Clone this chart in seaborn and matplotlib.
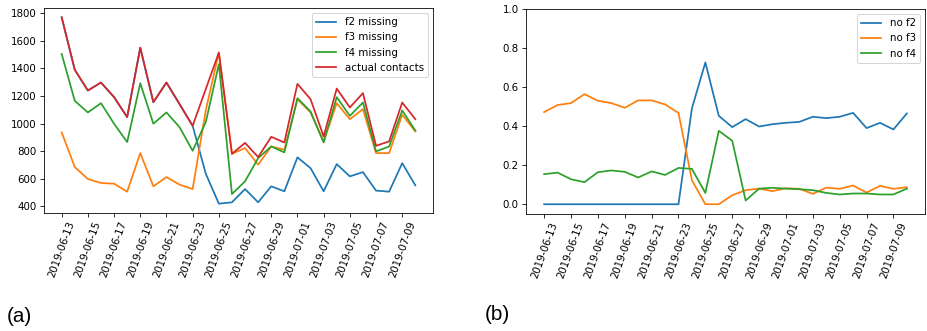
import numpy as np
import pandas as pd
import matplotlib
matplotlib.use("Agg")
import matplotlib.pyplot as plt
import matplotlib.dates as mdates
import seaborn as sns

# daily observations, 2019-06-13 .. 2019-07-10
dates = pd.date_range("2019-06-13", "2019-07-10", freq="D")

actual_contacts = [1771, 1390, 1240, 1298, 1192, 1047, 1551, 1155, 1298, 1141,
                   984, 1250, 1515, 781, 860, 757, 904, 863, 1288, 1177,
                   907, 1254, 1117, 1221, 839, 871, 1153, 1032]
f2_missing = [1771, 1390, 1240, 1298, 1192, 1047, 1551, 1155, 1298, 1141,
              984, 637, 419, 429, 525, 429, 545, 509, 755, 677,
              509, 706, 617, 648, 514, 506, 713, 552]
f3_missing = [936, 685, 598, 569, 564, 506, 786, 545, 612, 557,
              525, 1096, 1515, 781, 822, 702, 834, 810, 1177, 1081,
              871, 1148, 1032, 1105, 786, 786, 1064, 943]
f4_missing = [1505, 1165, 1081, 1148, 999, 866, 1293, 999, 1081, 974,
              803, 1010, 1431, 489, 581, 750, 834, 791, 1184, 1088,
              863, 1192, 1056, 1153, 798, 834, 1095, 950]

no_f2 = [0, 0, 0, 0, 0, 0, 0, 0, 0, 0,
         0, 0.491, 0.726, 0.453, 0.395, 0.436, 0.398, 0.410, 0.417, 0.422,
         0.448, 0.441, 0.448, 0.468, 0.390, 0.417, 0.383, 0.465]
no_f3 = [0.472, 0.508, 0.518, 0.564, 0.530, 0.518, 0.494, 0.532, 0.532, 0.511,
         0.468, 0.123, 0.0, 0.0, 0.046, 0.072, 0.080, 0.067, 0.082, 0.079,
         0.053, 0.085, 0.079, 0.096, 0.060, 0.094, 0.079, 0.087]
no_f4 = [0.154, 0.162, 0.128, 0.113, 0.164, 0.173, 0.166, 0.137, 0.168, 0.150,
         0.186, 0.181, 0.058, 0.376, 0.325, 0.019, 0.080, 0.084, 0.080, 0.077,
         0.072, 0.058, 0.050, 0.055, 0.055, 0.050, 0.050, 0.080]

left_series = [("f2 missing", f2_missing), ("f3 missing", f3_missing),
               ("f4 missing", f4_missing), ("actual contacts", actual_contacts)]
right_series = [("no f2", no_f2), ("no f3", no_f3), ("no f4", no_f4)]

palette = sns.color_palette("tab10")
DPI = 74
W, H = 927, 331
fig = plt.figure(figsize=(W / DPI, H / DPI), dpi=DPI)
ax1 = fig.add_axes([44 / W, 1 - 213 / H, (433 - 44) / W, (213 - 8) / H])
ax2 = fig.add_axes([526 / W, 1 - 214 / H, (925 - 526) / W, (214 - 9) / H])

for i, (name, vals) in enumerate(left_series):
    sns.lineplot(x=dates, y=vals, ax=ax1, color=palette[i], label=name, linewidth=1.7)
for i, (name, vals) in enumerate(right_series):
    sns.lineplot(x=dates, y=vals, ax=ax2, color=palette[i], label=name, linewidth=1.7)

ax2.set_ylim(-0.05, 1.0)

tick_dates = dates[::2]
for ax in (ax1, ax2):
    ax.set_xticks(tick_dates)
    ax.xaxis.set_major_formatter(mdates.DateFormatter("%Y-%m-%d"))
    ax.tick_params(axis="x", labelrotation=70)
    ax.set_xlabel("")
    ax.set_ylabel("")
    ax.legend(loc="upper right")

fig.text(7 / W, 1 - 316 / H, "(a)", fontsize=20.2, family="Liberation Sans",
         va="center", ha="left")
fig.text(485 / W, 1 - 314 / H, "(b)", fontsize=20.2, family="Liberation Sans",
         va="center", ha="left")

fig.savefig("out.png", dpi=DPI)
